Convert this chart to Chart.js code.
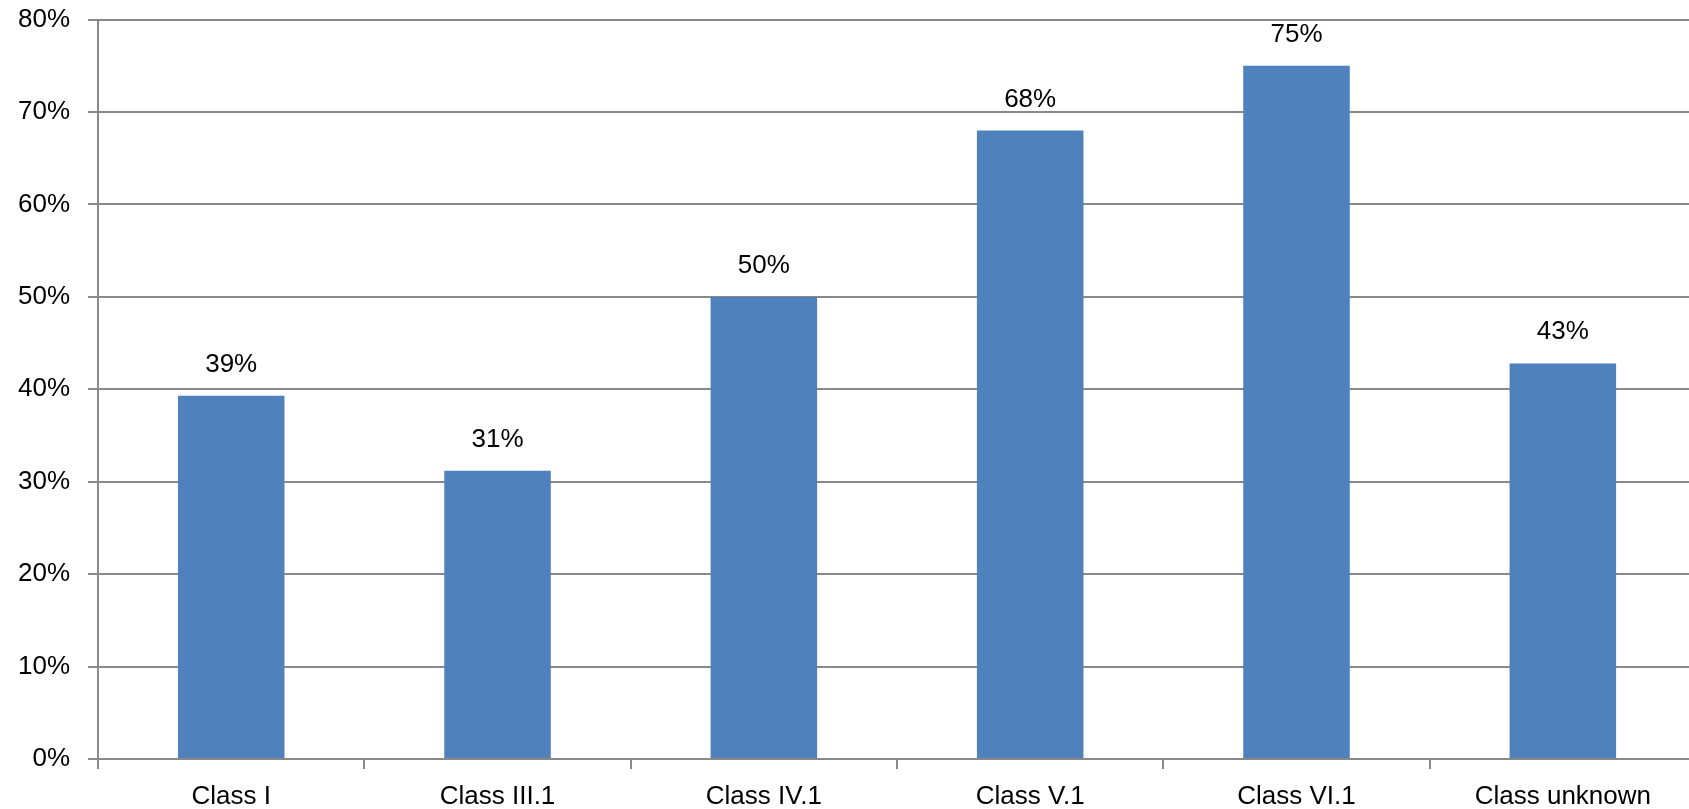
<!DOCTYPE html>
<html>
<head>
<meta charset="utf-8">
<script src="https://cdn.jsdelivr.net/npm/chart.js@4/dist/chart.umd.min.js"></script>
<style>
    html, body { margin: 0; padding: 0; background: #fff; overflow: hidden; }
    #wrap { width: 1696px; height: 839px; margin-top: -14px; }
</style>
</head>
<body>
<div id="wrap"><canvas id="chart"></canvas></div>
<script>
const categories = ['Class I', 'Class III.1', 'Class IV.1', 'Class V.1', 'Class VI.1', 'Class unknown']
const shares = [39.3, 31.2, 50, 68, 75, 42.8]
const yTicks = [0, 10, 20, 30, 40, 50, 60, 70, 80]

const FONT = 'Liberation Sans, Arial, sans-serif'
const GRID = '#898989'

// percentage label above each bar
const valueLabels = {
    id: 'valueLabels',
    afterDatasetsDraw(chart) {
        const ctx = chart.ctx
        const meta = chart.getDatasetMeta(0)
        ctx.save()
        ctx.font = '26px ' + FONT
        ctx.fillStyle = '#000'
        ctx.textAlign = 'center'
        ctx.textBaseline = 'alphabetic'
        meta.data.forEach((bar, i) => {
            ctx.fillText(Math.round(shares[i]) + '%', bar.x, bar.y - 24)
        })
        ctx.restore()
    }
}

new Chart(document.getElementById('chart'), {
    type: 'bar',
    data: {
        labels: categories,
        datasets: [{
            data: shares,
            backgroundColor: '#4f81bd',
            borderWidth: 0,
            barPercentage: 0.4,
            categoryPercentage: 1
        }]
    },
    options: {
        responsive: true,
        maintainAspectRatio: false,
        animation: false,
        layout: { padding: { left: 0, top: 1, right: 0, bottom: 0 } },
        plugins: {
            legend: { display: false },
            tooltip: { enabled: false }
        },
        scales: {
            x: {
                offset: true,
                grid: {
                    offset: true,
                    drawOnChartArea: false,
                    color: GRID,
                    lineWidth: 2,
                    tickLength: 10
                },
                border: { color: GRID, width: 2 },
                ticks: {
                    color: '#000',
                    padding: 15,
                    maxRotation: 0,
                    font: { family: FONT, size: 26, lineHeight: 1 }
                }
            },
            y: {
                min: 0,
                max: 80,
                afterBuildTicks: axis => { axis.ticks = yTicks.map(v => ({ value: v })) },
                grid: { color: GRID, lineWidth: 2, tickLength: 10 },
                border: { color: GRID, width: 2 },
                ticks: {
                    color: '#000',
                    padding: 18,
                    font: { family: FONT, size: 26 },
                    callback: v => v + '%'
                }
            }
        }
    },
    plugins: [valueLabels]
})
</script>
</body>
</html>
